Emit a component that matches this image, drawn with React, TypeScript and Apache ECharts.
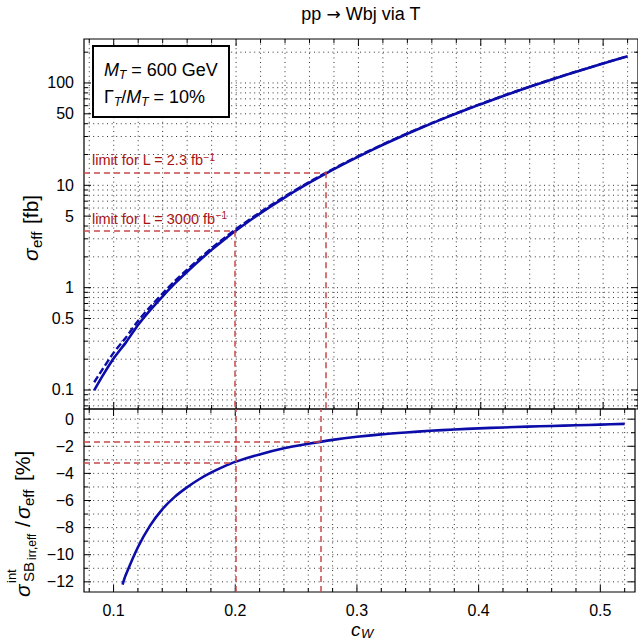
import React, { useEffect, useRef } from 'react';
import * as echarts from 'echarts';

// ---------------- data ----------------
const CW = [0.084, 0.09, 0.1, 0.11, 0.12, 0.13, 0.14, 0.15, 0.16, 0.17, 0.18, 0.19, 0.2, 0.22, 0.24, 0.26, 0.28, 0.3, 0.32, 0.34, 0.36, 0.38, 0.4, 0.42, 0.44, 0.46, 0.48, 0.5, 0.52];
const SIGMA_EFF = [0.099, 0.132, 0.204, 0.292, 0.434, 0.606, 0.824, 1.1, 1.43, 1.84, 2.34, 2.93, 3.62, 5.35, 7.64, 10.6, 14.4, 19.1, 24.9, 31.9, 40.3, 50.3, 62.1, 75.8, 91.8, 110, 131, 155, 182];
const SIGMA_NO_INT = [0.119, 0.154, 0.232, 0.326, 0.476, 0.654, 0.878, 1.163, 1.5, 1.92, 2.43, 3.03, 3.74, 5.49, 7.81, 10.8, 14.6, 19.35, 25.18, 32.2, 40.65, 50.7, 62.5, 76.3, 92.3, 110.6, 131.6, 155.6, 182.6];

const CW_RATIO = [0.1074, 0.11, 0.12, 0.13, 0.14, 0.15, 0.16, 0.17, 0.18, 0.19, 0.2, 0.22, 0.24, 0.26, 0.28, 0.3, 0.32, 0.34, 0.36, 0.38, 0.4, 0.42, 0.44, 0.46, 0.48, 0.5, 0.52];
const INT_RATIO = [-12.2, -11.5, -9.45, -7.85, -6.65, -5.75, -5.05, -4.45, -3.95, -3.52, -3.15, -2.6, -2.15, -1.82, -1.53, -1.3, -1.12, -0.98, -0.86, -0.76, -0.68, -0.61, -0.55, -0.5, -0.45, -0.4, -0.35];

const LIMIT_CW = [0.1986, 0.273];
const LIMIT_SIGMA = [3.6, 13.4];
const LIMIT_RATIO = [-3.19, -1.64];
const LIMIT_LUMI = ['3000', '2.3'];

const X_MAJOR = [0.1, 0.2, 0.3, 0.4, 0.5];
const X_MINOR = [0.08, 0.12, 0.14, 0.16, 0.18, 0.22, 0.24, 0.26, 0.28, 0.32, 0.34, 0.36, 0.38, 0.42, 0.44, 0.46, 0.48, 0.52];
const Y_TOP_MAJOR = [0.1, 0.5, 1, 5, 10, 50, 100];
const Y_TOP_MINOR = [0.07, 0.08, 0.09, 0.2, 0.3, 0.4, 0.6, 0.7, 0.8, 0.9, 2, 3, 4, 6, 7, 8, 9, 20, 30, 40, 60, 70, 80, 90, 200];
const Y_BOT_MAJOR = [-12, -10, -8, -6, -4, -2, 0];
const Y_BOT_MINOR = [-11, -9, -7, -5, -3, -1];

const X_RANGE = [0.0757, 0.5285];
const Y_TOP_RANGE = [0.0652, 269];
const Y_BOT_RANGE = [-12.75, 0.75];

// ---------------- styles ----------------
const FONT = '"Liberation Sans", Arial, Helvetica, sans-serif';
const ARROW_FONT = '"DejaVu Sans", "Liberation Sans", sans-serif';
const BLUE = '#0c0ca8';
const RED_LINE = '#c94848';
const RED_TEXT = '#a81414';

const gridStyle = () => ({ stroke: '#333', lineWidth: 1, lineDash: [1, 3.6] });
const tickStyle = () => ({ stroke: '#000', lineWidth: 1 });

function xTicks(gridIdx: number, values: number[], len: number, refY: number) {
  return {
    type: 'custom',
    xAxisIndex: gridIdx,
    yAxisIndex: gridIdx,
    silent: true,
    clip: false,
    z: 1,
    data: values.map((v) => [v, refY]),
    renderItem: (params: any, api: any) => {
      const cs = params.coordSys;
      const x = api.coord([api.value(0), api.value(1)])[0];
      const top = cs.y;
      const bot = cs.y + cs.height;
      return {
        type: 'group',
        children: [
          { type: 'line', shape: { x1: x, y1: top, x2: x, y2: bot }, style: gridStyle() },
          { type: 'line', shape: { x1: x, y1: top, x2: x, y2: top + len }, style: tickStyle() },
          { type: 'line', shape: { x1: x, y1: bot, x2: x, y2: bot - len }, style: tickStyle() },
        ],
      };
    },
  };
}

function yTicks(gridIdx: number, values: number[], len: number, labelled: boolean, refX: number) {
  return {
    type: 'custom',
    xAxisIndex: gridIdx,
    yAxisIndex: gridIdx,
    silent: true,
    clip: false,
    z: 1,
    data: values.map((v) => [refX, v]),
    renderItem: (params: any, api: any) => {
      const cs = params.coordSys;
      const v = api.value(1);
      const y = api.coord([api.value(0), v])[1];
      const l = cs.x;
      const r = cs.x + cs.width;
      const children: any[] = [
        { type: 'line', shape: { x1: l, y1: y, x2: r, y2: y }, style: gridStyle() },
        { type: 'line', shape: { x1: l, y1: y, x2: l + len, y2: y }, style: tickStyle() },
        { type: 'line', shape: { x1: r, y1: y, x2: r - len, y2: y }, style: tickStyle() },
      ];
      if (labelled) {
        children.push({
          type: 'text',
          style: {
            text: String(v),
            x: l - 10,
            y,
            align: 'right',
            textAlign: 'right',
            verticalAlign: 'middle',
            textVerticalAlign: 'middle',
            font: `16px ${FONT}`,
            fill: '#000',
          },
        });
      }
      return { type: 'group', children };
    },
  };
}

const txt = (text: string, x: number, y: number, size: number, italic = false, extra: any = {}) => ({
  type: 'text',
  x,
  y,
  style: {
    text,
    font: `${italic ? 'italic ' : ''}${size}px ${FONT}`,
    fill: '#000',
    align: 'left',
    textAlign: 'left',
    verticalAlign: 'middle',
    textVerticalAlign: 'middle',
    ...extra,
  },
});

const richLegend = {
  i: { fontStyle: 'italic', fontSize: 18, fontFamily: FONT, lineHeight: 22, color: '#000' },
  n: { fontSize: 18, fontFamily: FONT, lineHeight: 22, color: '#000' },
  s: { fontStyle: 'italic', fontSize: 12, fontFamily: FONT, lineHeight: 12, verticalAlign: 'bottom', color: '#000' },
};

const richTitle = {
  n: { fontSize: 18, fontFamily: FONT, lineHeight: 22, color: '#000' },
  a: { fontSize: 17, fontFamily: ARROW_FONT, lineHeight: 22, color: '#000' },
};

const limitRich = {
  a: { fontSize: 14.5, fontFamily: FONT, color: RED_TEXT, lineHeight: 16 },
  b: { fontSize: 10, fontFamily: FONT, color: RED_TEXT, lineHeight: 10, verticalAlign: 'top' },
};

function buildOption(): any {
  const topPairs = CW.map((c, i) => [c, SIGMA_EFF[i]]);
  const topDashed = CW.map((c, i) => [c, SIGMA_NO_INT[i]]);
  const botPairs = CW_RATIO.map((c, i) => [c, INT_RATIO[i]]);

  const topMarkData: any[] = [];
  LIMIT_CW.forEach((c, i) => {
    topMarkData.push([
      {
        coord: [X_RANGE[0], LIMIT_SIGMA[i]],
        label: {
          show: true,
          position: 'insideStartTop',
          distance: [8, 4],
          fontSize: 14.5,
          color: RED_TEXT,
          formatter: `{a|limit for L = ${LIMIT_LUMI[i]} fb}{b|\u22121}`,
          rich: limitRich,
        },
      },
      { coord: [c, LIMIT_SIGMA[i]] },
    ]);
    topMarkData.push([{ coord: [c, LIMIT_SIGMA[i]] }, { coord: [c, Y_TOP_RANGE[0]] }]);
  });
  const botMarkData: any[] = [];
  LIMIT_CW.forEach((c, i) => {
    botMarkData.push([{ coord: [X_RANGE[0], LIMIT_RATIO[i]] }, { coord: [c, LIMIT_RATIO[i]] }]);
    botMarkData.push({ xAxis: c });
  });
  const markLineBase = {
    silent: true,
    symbol: ['none', 'none'],
    animation: false,
    lineStyle: { color: RED_LINE, type: [6, 4], width: 1.5 },
    label: { show: false },
  };

  return {
    animation: false,
    backgroundColor: '#fff',
    grid: [
      { left: 84, top: 39, width: 554, height: 370, show: true, borderColor: '#000', borderWidth: 1.2, backgroundColor: 'transparent' },
      { left: 84, top: 409, width: 554, height: 183, show: true, borderColor: '#000', borderWidth: 1.2, backgroundColor: 'transparent' },
    ],
    xAxis: [
      {
        type: 'value', gridIndex: 0, min: X_RANGE[0], max: X_RANGE[1],
        axisLine: { show: false }, axisTick: { show: false }, axisLabel: { show: false }, splitLine: { show: false },
      },
      {
        type: 'value', gridIndex: 1, min: X_RANGE[0], max: X_RANGE[1], splitNumber: 5,
        axisLine: { show: false }, axisTick: { show: false }, splitLine: { show: false },
        axisLabel: {
          margin: 10,
          fontSize: 16,
          fontFamily: FONT,
          color: '#000',
          formatter: (v: number) => (X_MAJOR.some((m) => Math.abs(m - v) < 1e-6) ? v.toFixed(1) : ''),
        },
      },
    ],
    yAxis: [
      {
        type: 'log', gridIndex: 0, min: Y_TOP_RANGE[0], max: Y_TOP_RANGE[1],
        axisLine: { show: false }, axisTick: { show: false }, axisLabel: { show: false }, splitLine: { show: false },
      },
      {
        type: 'value', gridIndex: 1, min: Y_BOT_RANGE[0], max: Y_BOT_RANGE[1], splitNumber: 7,
        axisLine: { show: false }, axisTick: { show: false }, splitLine: { show: false },
        axisLabel: {
          margin: 10,
          fontSize: 16,
          fontFamily: FONT,
          color: '#000',
          formatter: (v: number) =>
            Y_BOT_MAJOR.some((m) => Math.abs(m - v) < 1e-6) ? (v < 0 ? '\u2212' + Math.abs(Math.round(v)) : '0') : '',
        },
      },
    ],
    series: [
      xTicks(0, X_MINOR, 4, 1),
      xTicks(0, X_MAJOR, 7, 1),
      xTicks(1, X_MINOR, 4, 0),
      xTicks(1, X_MAJOR, 7, 0),
      yTicks(0, Y_TOP_MINOR, 4, false, 0.3),
      yTicks(0, Y_TOP_MAJOR, 7, true, 0.3),
      yTicks(1, Y_BOT_MINOR, 4, false, 0.3),
      yTicks(1, Y_BOT_MAJOR, 7, false, 0.3),
      {
        type: 'line', xAxisIndex: 0, yAxisIndex: 0, data: topDashed, showSymbol: false, symbol: 'none', smooth: 0.2, z: 3,
        lineStyle: { color: BLUE, width: 2.4, type: [7, 3] },
      },
      {
        type: 'line', xAxisIndex: 0, yAxisIndex: 0, data: topPairs, showSymbol: false, symbol: 'none', smooth: 0.2, z: 4,
        lineStyle: { color: BLUE, width: 2.6 },
        markLine: { ...markLineBase, data: topMarkData },
      },
      {
        type: 'line', xAxisIndex: 1, yAxisIndex: 1, data: botPairs, showSymbol: false, symbol: 'none', smooth: 0.3, z: 4,
        lineStyle: { color: BLUE, width: 2.6 },
        markLine: { ...markLineBase, data: botMarkData },
      },
    ],
    graphic: [
      {
        type: 'text', x: 361, y: 14,
        style: {
          text: '{n|pp }{a|\u2192}{n| Wbj via T}', rich: richTitle,
          align: 'center', textAlign: 'center', verticalAlign: 'middle', textVerticalAlign: 'middle',
        },
      },
      {
        type: 'rect', z: 100,
        shape: { x: 93, y: 46, width: 136, height: 71 },
        style: { fill: '#fff', stroke: '#000', lineWidth: 2 },
      },
      {
        type: 'text', z: 101, x: 104, y: 70,
        style: { text: '{i|M}{s|T}{n| = 600 GeV}', rich: richLegend, verticalAlign: 'middle', textVerticalAlign: 'middle' },
      },
      {
        type: 'text', z: 101, x: 104, y: 97,
        style: { text: '{n|\u0393}{s|T}{n|/}{i|M}{s|T}{n| = 10%}', rich: richLegend, verticalAlign: 'middle', textVerticalAlign: 'middle' },
      },
      // top y-axis title
      {
        type: 'group', x: 30, y: 261, rotation: Math.PI / 2,
        children: [
          txt('\u03c3', 0, 0, 21, true),
          txt('eff', 13, 6, 15),
          txt('[fb]', 37, 0, 21),
        ],
      },
      // bottom y-axis title
      {
        type: 'group', x: 22, y: 597, rotation: Math.PI / 2,
        children: [
          txt('\u03c3', 0, 0, 21, true),
          txt('int', 14, -11, 13),
          txt('SB', 15, 6, 15),
          txt('irr,eff', 37, 10, 12),
          txt('/', 70, 0, 21),
          txt('\u03c3', 78, 0, 21, true),
          txt('eff', 91, 6, 15),
          txt('[%]', 116, 0, 21),
        ],
      },
      // x-axis title
      txt('c', 351, 629, 19, true),
      txt('W', 361, 633, 13, true),
    ],
  };
}

export default function App() {
  const ref = useRef<HTMLDivElement>(null);
  useEffect(() => {
    if (!ref.current) return;
    const chart = echarts.init(ref.current, undefined, { renderer: 'svg' });
    chart.setOption(buildOption());
    return () => chart.dispose();
  }, []);
  return (
    <div
      ref={ref}
      style={{ position: 'fixed', left: 0, top: 0, width: 638, height: 640, background: '#fff' }}
    />
  );
}
